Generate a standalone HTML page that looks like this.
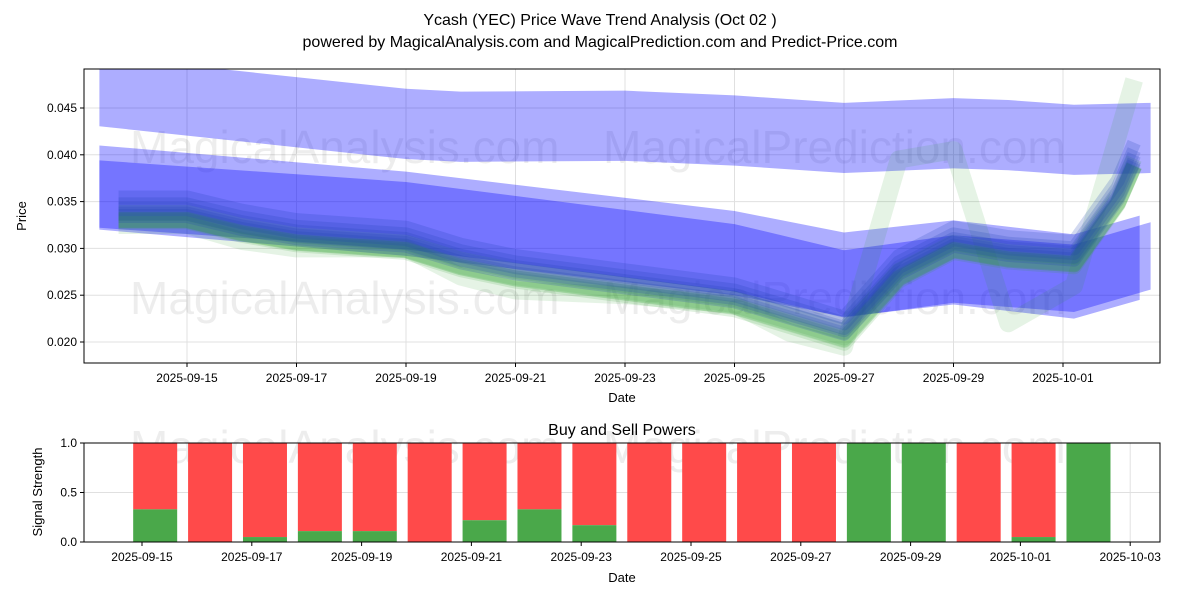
<!DOCTYPE html>
<html><head><meta charset="utf-8"><style>
body{margin:0;background:#fff;font-family:"Liberation Sans",sans-serif}
text{font-family:"Liberation Sans",sans-serif}
</style></head><body>
<svg id="c" width="1200" height="600" xmlns="http://www.w3.org/2000/svg">
<defs><clipPath id="clipTop"><rect x="84" y="69" width="1076" height="294"/></clipPath></defs>
<text x="600" y="25" font-size="16" text-anchor="middle">Ycash (YEC) Price Wave Trend Analysis (Oct 02 )</text>
<text x="600" y="47" font-size="16" text-anchor="middle">powered by MagicalAnalysis.com and MagicalPrediction.com and Predict-Price.com</text>
<g id="topg"></g>
<g id="botg"></g>
</svg>
<script>
// ---- data ----
const priceTicks=[0.020,0.025,0.030,0.035,0.040,0.045];
const topDateTicks=["2025-09-15","2025-09-17","2025-09-19","2025-09-21","2025-09-23","2025-09-25","2025-09-27","2025-09-29","2025-10-01"];
const upperBandDays=[-1.6,4,5,8,10,12,14,15,16.2,17.6];
const upperBandVals=[0.0468,0.0433,0.0430,0.0431,0.0426,0.0418,0.0423,0.0421,0.0416,0.0418];
const bandADays=[-1.6,4,10,12,14,16.2,17.4];
const bandAVals=[0.0365,0.0337,0.0295,0.0272,0.0285,0.0270,0.0290];
const bandBDays=[-1.6,4,10,12,14,16.2,17.6];
const bandBVals=[0.0358,0.0335,0.0290,0.0262,0.0278,0.0268,0.0292];
const pathDays=[-1.25,0,1,2,4,5,6,8,10,12,13,14,15,16.2,17,17.3];
const pathVals=[0.0342,0.0342,0.0328,0.0318,0.0310,0.0292,0.0280,0.0265,0.0250,0.0215,0.0280,0.0310,0.0300,0.0295,0.0360,0.0400];
const greenWildDays=[-1.25,0,1,2,4,5,6,8,10,11,12,13,14,15,16.2,17.3];
const greenWildVals=[0.0325,0.0325,0.0308,0.0300,0.0300,0.0270,0.0255,0.0250,0.0240,0.0210,0.0195,0.0395,0.0405,0.0220,0.0260,0.0480];
const barDates=["2025-09-14","2025-09-15","2025-09-16","2025-09-17","2025-09-18","2025-09-19","2025-09-20","2025-09-21","2025-09-22","2025-09-23","2025-09-24","2025-09-25","2025-09-26","2025-09-27","2025-09-28","2025-09-29","2025-09-30","2025-10-01"];
const buyVals=[0.33,0,0.05,0.11,0.11,0,0.22,0.33,0.17,0,0,0,0,1,1,0,0.05,1];
const strengthTicks=[0.0,0.5,1.0];
const botDateTicks=["2025-09-15","2025-09-17","2025-09-19","2025-09-21","2025-09-23","2025-09-25","2025-09-27","2025-09-29","2025-10-01","2025-10-03"];

const NS="http://www.w3.org/2000/svg";
function mk(parent,tag,attrs){const e=document.createElementNS(NS,tag);for(const k in attrs)e.setAttribute(k,attrs[k]);parent.appendChild(e);return e;}
const base=Date.UTC(2025,8,15);
function dayOf(s){const p=s.split("-");return (Date.UTC(+p[0],+p[1]-1,+p[2])-base)/86400000;}
const X=d=>187+d*54.75;
const Y=v=>342-(v-0.020)*9360;
const XB=d=>142+d*54.9;
const YB=v=>542-v*99;

const topG=document.getElementById("topg"), botG=document.getElementById("botg");
for(const v of priceTicks){const l=mk(topG,"line",{x1:84,x2:1160,y1:Y(v),y2:Y(v),stroke:"#e0e0e0"});

}
for(const s of topDateTicks){const l=mk(topG,"line",{x1:X(dayOf(s)),x2:X(dayOf(s)),y1:69,y2:363,stroke:"#e0e0e0"});

}
[["MagicalAnalysis.com",130,163],["MagicalPrediction.com",603,163],["MagicalAnalysis.com",130,314],["MagicalPrediction.com",603,314]].forEach(w=>{
const t=mk(topG,"text",{x:w[1],y:w[2],"font-size":46,fill:"#000","fill-opacity":0.07});t.textContent=w[0];

});
const plot=mk(topG,"g",{"clip-path":"url(#clipTop)"});


function band(days,vals,th,op,name){
 const up=days.map((d,i)=>X(d)+","+Y(vals[i]+th/2)), dn=days.map((d,i)=>X(d)+","+Y(vals[i]-th/2)).reverse();
 const p=mk(plot,"polygon",{points:up.concat(dn).join(" "),fill:"#0000ff","fill-opacity":op});
 
 }
band(upperBandDays,upperBandVals,0.0075,0.32,'upper-wave-band');
band(bandADays,bandAVals,0.0090,0.32,'middle-wave-band');
band(bandBDays,bandBVals,0.0072,0.32,'lower-wave-band');
function line(days,vals,off,sc,col,w,op,name){
 const pts=days.map((d,i)=>X(d)+","+Y(vals[i]*sc+off)).join(" ");
 const p=mk(plot,"polyline",{points:pts,fill:"none",stroke:col,"stroke-width":w,"stroke-opacity":op,"stroke-linejoin":"round"});
 
 }
[[-0.0012,1],[-0.0008,0.99],[-0.0015,1.01],[-0.0004,1],[-0.002,1.02]].forEach(o=>line(pathDays,pathVals,o[0],o[1],"#2ca02c",16,0.15,'green-wave-line'));
line(greenWildDays,greenWildVals,0,1,"#2ca02c",18,0.12,'green-wave-line');
[[0,1],[0.0005,1],[-0.0004,0.99],[0.0009,1.01],[0.0002,0.98]].forEach(o=>line(pathDays,pathVals,o[0],o[1],"#1f3fb4",14,0.2,'blue-wave-line'));
mk(topG,"rect",{x:84,y:69,width:1076,height:294,fill:"none",stroke:"#000"});
for(const v of priceTicks){mk(topG,"line",{x1:80,x2:84,y1:Y(v),y2:Y(v),stroke:"#000"});
const t=mk(topG,"text",{x:77,y:Y(v)+4,"font-size":12,"text-anchor":"end"});t.textContent=v.toFixed(3);

}
for(const s of topDateTicks){const x=X(dayOf(s));mk(topG,"line",{x1:x,x2:x,y1:363,y2:367,stroke:"#000"});
const t=mk(topG,"text",{x:x,y:382,"font-size":12,"text-anchor":"middle"});t.textContent=s;

}
let tt=mk(topG,"text",{x:622,y:402,"font-size":13,"text-anchor":"middle"});tt.textContent="Date";


tt=mk(topG,"text",{x:26,y:216,"font-size":13,"text-anchor":"middle",transform:"rotate(-90 26 216)"});tt.textContent="Price";



tt=mk(botG,"text",{x:622,y:435,"font-size":16,"text-anchor":"middle"});tt.textContent="Buy and Sell Powers";


for(const v of strengthTicks){const l=mk(botG,"line",{x1:84,x2:1160,y1:YB(v),y2:YB(v),stroke:"#e0e0e0"});

}
for(const s of botDateTicks){const l=mk(botG,"line",{x1:XB(dayOf(s)),x2:XB(dayOf(s)),y1:443,y2:542,stroke:"#e0e0e0"});

}
[["MagicalAnalysis.com",130,463],["MagicalPrediction.com",603,463]].forEach(w=>{
const q=mk(botG,"text",{x:w[1],y:w[2],"font-size":46,fill:"#000","fill-opacity":0.07});q.textContent=w[0];

});
barDates.forEach((s,i)=>{const cx=XB(dayOf(s)+1.24);const b=buyVals[i];
const r=mk(botG,"rect",{x:cx-22,y:YB(1),width:44,height:YB(b)-YB(1),fill:"#ff4a4a"});


const g=mk(botG,"rect",{x:cx-22,y:YB(b),width:44,height:YB(0)-YB(b),fill:"#4aa84a"});

});
mk(botG,"rect",{x:84,y:443,width:1076,height:99,fill:"none",stroke:"#000"});
for(const v of strengthTicks){mk(botG,"line",{x1:80,x2:84,y1:YB(v),y2:YB(v),stroke:"#000"});
const q=mk(botG,"text",{x:77,y:YB(v)+4,"font-size":12,"text-anchor":"end"});q.textContent=v.toFixed(1);

}
for(const s of botDateTicks){const x=XB(dayOf(s));mk(botG,"line",{x1:x,x2:x,y1:542,y2:546,stroke:"#000"});
const q=mk(botG,"text",{x:x,y:561,"font-size":12,"text-anchor":"middle"});q.textContent=s;

}
tt=mk(botG,"text",{x:622,y:582,"font-size":13,"text-anchor":"middle"});tt.textContent="Date";


tt=mk(botG,"text",{x:42,y:492,"font-size":13,"text-anchor":"middle",transform:"rotate(-90 42 492)"});tt.textContent="Signal Strength";


</script>
</body></html>
